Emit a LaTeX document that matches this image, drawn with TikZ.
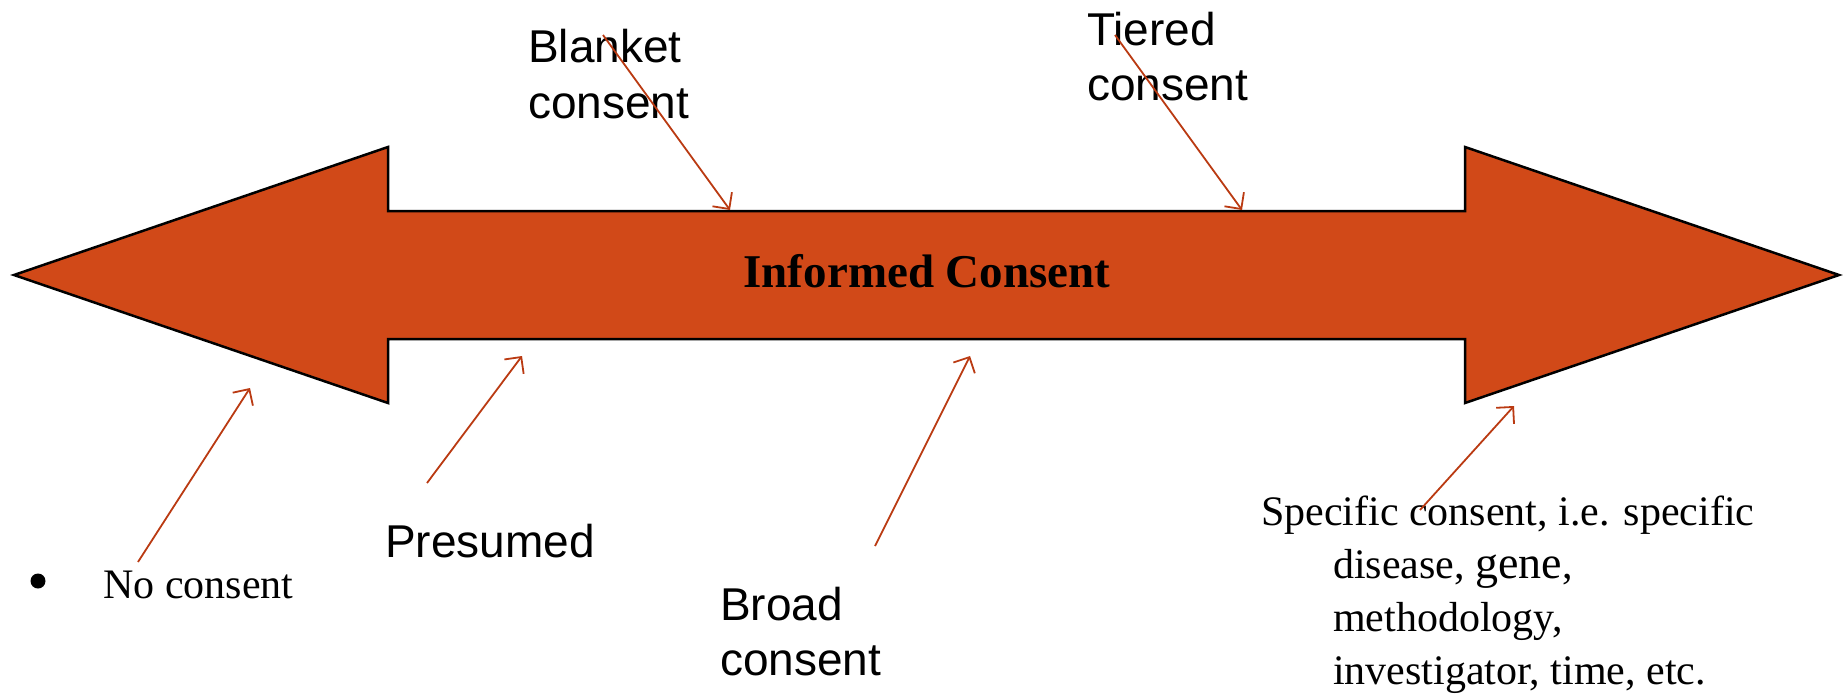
\documentclass[tikz,border=0pt]{standalone}
\usepackage{fontspec}
\setmainfont{Liberation Serif}
\setsansfont{Liberation Sans}
\usetikzlibrary{arrows.meta}
\definecolor{bandorange}{RGB}{209,73,24}
\definecolor{pointred}{RGB}{186,58,18}

\begin{document}
\begin{tikzpicture}[x=1pt, y=-1pt,
  sanslbl/.style={font=\sffamily\fontsize{46}{56}\selectfont, align=left, anchor=base west, inner sep=0pt},
  seriflbl/.style={font=\fontsize{42}{53}\selectfont, align=left, anchor=base west, inner sep=0pt},
  pointer/.style={pointred, line width=1.8pt, -{Straight Barb[length=12pt, width=24pt]}}]
  \useasboundingbox (0,0) rectangle (1847,699);

  % --- double-headed band ---
  \draw[line width=2.5pt, fill=bandorange]
    (14,275) -- (388,147) -- (388,211) -- (1465,211) -- (1465,147)
    -- (1839,275) -- (1465,403) -- (1465,339) -- (388,339) -- (388,403) -- cycle;
  \node[font=\bfseries\fontsize{47}{50}\selectfont, anchor=base, inner sep=0pt]
    (ic) at (927,287) {Informed Consent};

  % labels above and below the band (base = last line)
  \node[sanslbl] (blanket) at (528,118) {Blanket\\consent};
  \node[sanslbl, font=\sffamily\fontsize{46}{55}\selectfont] (tiered) at (1087,100) {Tiered\\consent};
  \node[sanslbl] (presumed) at (385,557) {Presumed};
  \node[sanslbl, font=\sffamily\fontsize{46}{55}\selectfont] (broad) at (720,675) {Broad\\consent};
  \node[circle, fill, inner sep=0pt, minimum size=15pt] (dot) at (38,581) {};
  \node[seriflbl] (none) at (103,598) {No consent};
  \node[seriflbl] (specific) at (1261,684)
    {Specific consent, i.e. specific\\
     \hspace*{72pt}disease, {\fontsize{46}{53}\selectfont gene},\\
     \hspace*{72pt}methodology,\\
     \hspace*{72pt}investigator, time, etc.};

  % pointer ends
  \coordinate (blanket-s) at (603,35);   \coordinate (blanket-t) at (730,210);
  \coordinate (tiered-s) at (1115,35);   \coordinate (tiered-t) at (1242,210);
  \coordinate (none-s) at (138,562);     \coordinate (none-t) at (250,388);
  \coordinate (presumed-s) at (427,483); \coordinate (presumed-t) at (522,356);
  \coordinate (broad-s) at (875,546);    \coordinate (broad-t) at (970,356);
  \coordinate (specific-s) at (1420,510); \coordinate (specific-t) at (1514,406);

  \foreach \p in {blanket, tiered, none, presumed, broad, specific}
    \draw[pointer] (\p-s) -- (\p-t);
\end{tikzpicture}
\end{document}
